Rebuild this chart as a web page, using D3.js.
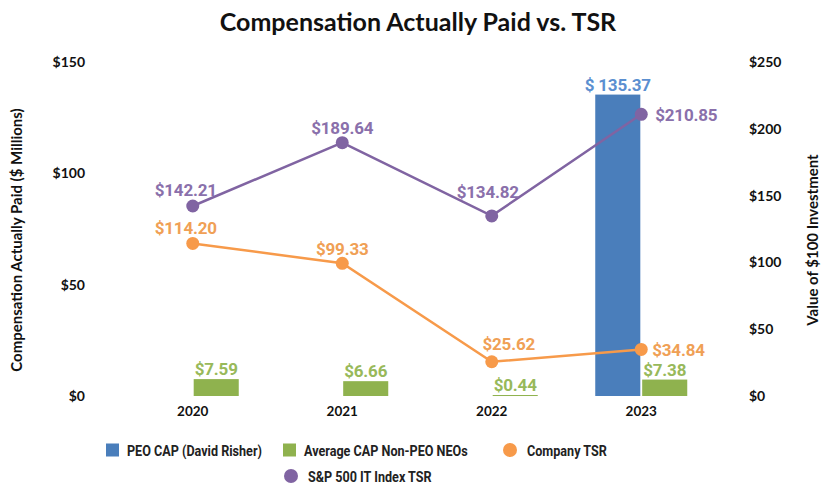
<!DOCTYPE html>
<html>
<head>
<meta charset="utf-8">
<script src="https://cdn.jsdelivr.net/npm/d3@7"></script>
<style>
  body { margin: 0; background: #fff; }
  svg { display: block; }
  .tick-lbl { font-family: Lato, "Open Sans", sans-serif; font-weight: 700; font-size: 14px; fill: #111; }
  .yr-lbl { font-family: Lato, "Open Sans", sans-serif; font-weight: 700; font-size: 13.5px; fill: #111; }
  .ax-title { font-family: Lato, "Open Sans", sans-serif; font-weight: 700; font-size: 15px; fill: #111; }
  .dl { font-family: Roboto, sans-serif; font-weight: 700; font-size: 17px; letter-spacing: -0.2px; }
  .leg { font-family: Roboto, sans-serif; font-weight: 700; font-size: 15px; fill: #222; }
</style>
</head>
<body>
<svg id="chart" width="822" height="485"></svg>
<script>
const years = ['2020', '2021', '2022', '2023'];
const peoCap = [null, null, null, 135.37];
const avgCap = [7.59, 6.66, 0.44, 7.38];
const companyTsr = [114.20, 99.33, 25.62, 34.84];
const spTsr = [142.21, 189.64, 134.82, 210.85];
const leftTicks = [0, 50, 100, 150];
const rightTicks = [0, 50, 100, 150, 200, 250];
const legendItems = ['PEO CAP (David Risher)', 'Average CAP Non-PEO NEOs', 'Company TSR', 'S&P 500 IT Index TSR'];

const colors = {
  peo: '#4a7ebb', peoText: '#5b8fd0',
  avg: '#8fb24e', avgText: '#98b95a',
  co: '#f79a4a', coText: '#f0a055',
  sp: '#8064a2', spText: '#8a70ab'
};

const svg = d3.select('#chart');
const plot = { left: 118, right: 716, top: 62, bottom: 396 };

const x = d3.scaleBand().domain(years).range([plot.left, plot.right]).padding(0);
const sub = d3.scaleBand().domain(['peo', 'avg']).range([-46, 46]).paddingInner(0.04);
const yL = d3.scaleLinear().domain([0, 150]).range([plot.bottom, plot.top]);
const yR = d3.scaleLinear().domain([0, 250]).range([plot.bottom, plot.top]);
const cx = d => x(d) + x.bandwidth() / 2;

// title
svg.append('text')
  .attr('x', 418).attr('y', 31)
  .attr('text-anchor', 'middle')
  .style('font-family', 'Lato, "Open Sans", sans-serif')
  .style('font-weight', 700)
  .style('font-size', '25px')
  .style('fill', '#111')
  .text('Compensation Actually Paid vs. TSR');

// left axis
const gl = svg.append('g').attr('transform', 'translate(85,0)')
  .call(d3.axisLeft(yL).tickValues(leftTicks).tickFormat(d => '$' + d).tickSize(0).tickPadding(0));
gl.select('.domain').remove();
gl.selectAll('text').attr('class', 'tick-lbl').attr('font-family', null).attr('font-size', null);

// right axis
const gr = svg.append('g').attr('transform', 'translate(749,0)')
  .call(d3.axisRight(yR).tickValues(rightTicks).tickFormat(d => '$' + d).tickSize(0).tickPadding(0));
gr.select('.domain').remove();
gr.selectAll('text').attr('class', 'tick-lbl').attr('font-family', null).attr('font-size', null);

// x axis labels
const gx = svg.append('g').attr('transform', `translate(0,${plot.bottom + 10})`)
  .call(d3.axisBottom(x).tickSize(0).tickPadding(0));
gx.select('.domain').remove();
gx.selectAll('text').attr('class', 'yr-lbl').attr('font-family', null).attr('font-size', null);

// axis titles
svg.append('text').attr('class', 'ax-title')
  .attr('transform', 'translate(22,240) rotate(-90)')
  .attr('text-anchor', 'middle')
  .text('Compensation Actually Paid ($ Millions)');
svg.append('text').attr('class', 'ax-title')
  .attr('transform', 'translate(818,240) rotate(-90)')
  .attr('text-anchor', 'middle')
  .text('Value of $100 Investment');

// bars
const peoData = years.map((y, i) => ({ year: y, v: peoCap[i] })).filter(d => d.v != null);
const avgData = years.map((y, i) => ({ year: y, v: avgCap[i] }));

svg.append('g').selectAll('rect')
  .data(peoData).join('rect')
  .attr('x', d => cx(d.year) + sub('peo'))
  .attr('y', d => yL(d.v))
  .attr('width', sub.bandwidth())
  .attr('height', d => yL(0) - yL(d.v))
  .attr('fill', colors.peo);

svg.append('g').selectAll('rect')
  .data(avgData).join('rect')
  .attr('x', d => cx(d.year) + sub('avg'))
  .attr('y', d => yL(d.v))
  .attr('width', sub.bandwidth())
  .attr('height', d => Math.max(1, yL(0) - yL(d.v)))
  .attr('fill', colors.avg);

// bar labels
svg.append('g').selectAll('text')
  .data(peoData).join('text')
  .attr('class', 'dl')
  .attr('x', d => cx(d.year) + sub('peo') + sub.bandwidth() / 2)
  .attr('y', d => yL(d.v) - 4)
  .attr('text-anchor', 'middle')
  .attr('fill', colors.peoText)
  .text(d => '$ ' + d.v.toFixed(2));

svg.append('g').selectAll('text')
  .data(avgData).join('text')
  .attr('class', 'dl')
  .attr('x', d => cx(d.year) + sub('avg') + sub.bandwidth() / 2)
  .attr('y', d => Math.min(yL(d.v) - 4, yL(0) - 5))
  .attr('text-anchor', 'middle')
  .attr('fill', colors.avgText)
  .text(d => '$' + d.v.toFixed(2));

// lines with point labels; offsets [dx, dy, anchor] per year
function drawLine(values, color, textColor, offsets) {
  const pts = years.map((y, i) => ({ year: y, v: values[i], o: offsets[i] }));
  const line = d3.line().x(d => cx(d.year)).y(d => yR(d.v));
  svg.append('path').datum(pts)
    .attr('d', line)
    .attr('fill', 'none')
    .attr('stroke', color)
    .attr('stroke-width', 2.5);
  svg.append('g').selectAll('circle')
    .data(pts).join('circle')
    .attr('cx', d => cx(d.year))
    .attr('cy', d => yR(d.v))
    .attr('r', 6.5)
    .attr('fill', color);
  svg.append('g').selectAll('text')
    .data(pts).join('text')
    .attr('class', 'dl')
    .attr('x', d => cx(d.year) + d.o[0])
    .attr('y', d => yR(d.v) + d.o[1])
    .attr('text-anchor', d => d.o[2])
    .attr('fill', textColor)
    .text(d => '$' + d.v.toFixed(2));
}

drawLine(companyTsr, colors.co, colors.coText,
  [[-7, -9, 'middle'], [0, -8, 'middle'], [17, -12, 'middle'], [11, 7, 'start']]);
drawLine(spTsr, colors.sp, colors.spText,
  [[-7, -10, 'middle'], [0, -9, 'middle'], [-4, -18, 'middle'], [14, 7, 'start']]);

// legend (narrow look: squeeze the glyphs horizontally)
const legRows = [
  { label: legendItems[0], color: colors.peo, shape: 'rect', x: 106, y: 450 },
  { label: legendItems[1], color: colors.avg, shape: 'rect', x: 283, y: 450 },
  { label: legendItems[2], color: colors.co, shape: 'circle', x: 503, y: 450 },
  { label: legendItems[3], color: colors.sp, shape: 'circle', x: 284, y: 476 }
];
const lg = svg.append('g').selectAll('g').data(legRows).join('g')
  .attr('transform', d => `translate(${d.x},${d.y})`);
lg.filter(d => d.shape === 'rect').append('rect')
  .attr('x', 0).attr('y', -6.5).attr('width', 13).attr('height', 13)
  .attr('fill', d => d.color);
lg.filter(d => d.shape === 'circle').append('circle')
  .attr('cx', 7).attr('cy', 0).attr('r', 7)
  .attr('fill', d => d.color);
lg.append('text').attr('class', 'leg')
  .attr('x', d => d.shape === 'rect' ? 21 : 24)
  .attr('y', 5.5)
  .text(d => d.label)
  .each(function () {
    const w = this.getComputedTextLength();
    d3.select(this).attr('textLength', w * 0.84).attr('lengthAdjust', 'spacingAndGlyphs');
  });
</script>
</body>
</html>
